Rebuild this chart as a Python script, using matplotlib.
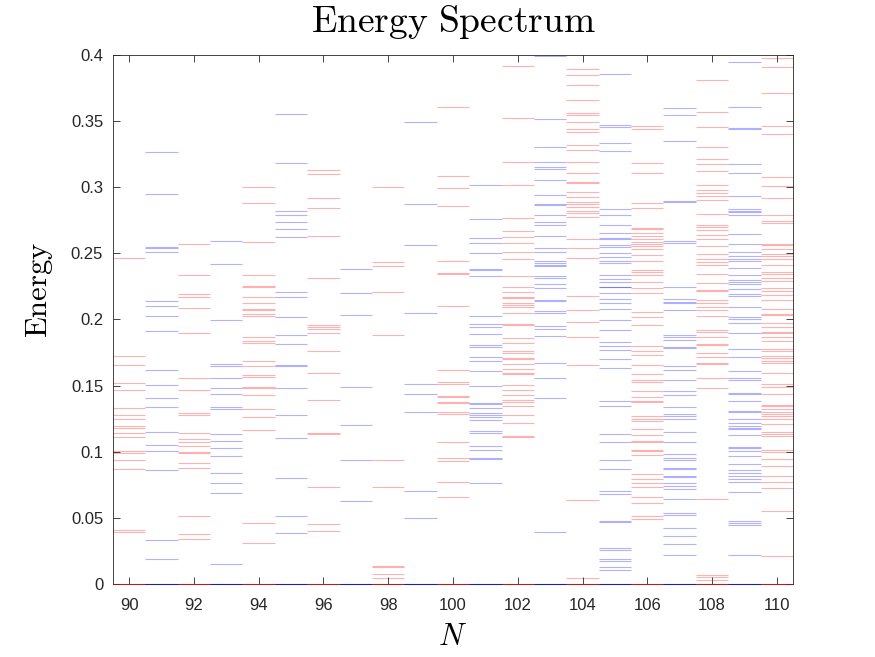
import matplotlib
matplotlib.use('Agg')
import matplotlib.pyplot as plt

plt.rcParams['mathtext.fontset'] = 'cm'
plt.rcParams['font.family'] = ['Liberation Sans', 'DejaVu Sans']

# energy levels, one list per N (ground state 0 included)
e90 = [0, 0.2465, 0.1726, 0.1658, 0.1522, 0.147, 0.133, 0.1275, 0.1247, 0.1195, 0.118,
       0.1145, 0.111, 0.1007, 0.0994, 0.094, 0.087, 0.041, 0.0396]
e91 = [0, 0.327, 0.295, 0.2548, 0.2538, 0.2511, 0.2137, 0.2105, 0.203, 0.1913, 0.162,
       0.1507, 0.1403, 0.134, 0.1153, 0.1054, 0.1002, 0.0864, 0.0333, 0.0187]
e92 = [0, 0.2574, 0.234, 0.2194, 0.2168, 0.2085, 0.19, 0.156, 0.147, 0.1296, 0.1275,
       0.1145, 0.1098, 0.1075, 0.104, 0.0999, 0.0989, 0.0916, 0.0874, 0.0515, 0.0377, 0.0338]
e93 = [0, 0.2595, 0.2423, 0.1999, 0.1663, 0.165, 0.156, 0.1483, 0.1434, 0.134, 0.132,
       0.1137, 0.1083, 0.1028, 0.097, 0.0838, 0.076, 0.069, 0.0151]
e94 = [0, 0.3003, 0.2884, 0.2587, 0.234, 0.2251, 0.2243, 0.2168, 0.2126, 0.2079, 0.2069,
       0.2038, 0.203, 0.1871, 0.1835, 0.1822, 0.1686, 0.165, 0.1582, 0.1567, 0.1491,
       0.1481, 0.1431, 0.132, 0.1265, 0.1166, 0.0463, 0.0312]
e95 = [0, 0.3555, 0.3185, 0.2821, 0.2793, 0.274, 0.2686, 0.2626, 0.221, 0.217, 0.2022,
       0.1884, 0.1817, 0.1658, 0.1645, 0.1481, 0.1275, 0.1103, 0.0802, 0.0515, 0.0383]
e96 = [0, 0.3131, 0.3097, 0.292, 0.2845, 0.2634, 0.2316, 0.1957, 0.1944, 0.1931, 0.19,
       0.1764, 0.1598, 0.1395, 0.1145, 0.1135, 0.0737, 0.045, 0.0398]
e97 = [0, 0.2379, 0.2202, 0.2035, 0.1486, 0.1205, 0.0934, 0.0625]
e98 = [0, 0.3003, 0.2436, 0.2402, 0.221, 0.1884, 0.094, 0.0737, 0.0138, 0.013, 0.0078, 0.0047]
e99 = [0, 0.3495, 0.2876, 0.2566, 0.2048, 0.1515, 0.1439, 0.1304, 0.07, 0.0502]
e100 = [0, 0.361, 0.3087, 0.2995, 0.286, 0.2444, 0.235, 0.2345, 0.21, 0.1621, 0.153, 0.151,
        0.1424, 0.1411, 0.1377, 0.1366, 0.1304, 0.1283, 0.107, 0.095, 0.0929, 0.0773, 0.0661]
e101 = [0, 0.3019, 0.2761, 0.2618, 0.2577, 0.2506, 0.2379, 0.2374, 0.2329, 0.203, 0.1965,
        0.1947, 0.1892, 0.1804, 0.1793, 0.1718, 0.1686, 0.1614, 0.1499, 0.1369, 0.1359,
        0.1333, 0.1296, 0.128, 0.126, 0.1241, 0.1158, 0.1145, 0.1046, 0.101, 0.095,
        0.0942, 0.076]
e102 = [0, 0.3914, 0.3524, 0.3193, 0.3019, 0.2767, 0.267, 0.2626, 0.2579, 0.2514, 0.2459,
        0.2327, 0.2249, 0.2207, 0.217, 0.216, 0.2126, 0.2108, 0.2095, 0.2046, 0.1965,
        0.196, 0.1858, 0.1819, 0.1759, 0.1746, 0.1712, 0.1701, 0.166, 0.1627, 0.1595,
        0.159, 0.1502, 0.147, 0.1431, 0.1395, 0.1374, 0.1345, 0.1275, 0.122, 0.1122, 0.1109]
e103 = [0, 0.399, 0.3519, 0.3305, 0.3193, 0.3152, 0.3136, 0.3055, 0.2941, 0.2871, 0.2866,
        0.2793, 0.274, 0.2714, 0.2634, 0.2543, 0.2511, 0.2446, 0.2428, 0.2413, 0.2405,
        0.2329, 0.2311, 0.2267, 0.2236, 0.2147, 0.2142, 0.2066, 0.2046, 0.1954, 0.1931,
        0.1879, 0.1673, 0.1559, 0.1403, 0.039]
e104 = [0, 0.3896, 0.3849, 0.3774, 0.3662, 0.356, 0.3547, 0.349, 0.3441, 0.3415, 0.3316,
        0.3282, 0.3193, 0.311, 0.3042, 0.3032, 0.2967, 0.293, 0.2886, 0.2873, 0.2847,
        0.2819, 0.2806, 0.2777, 0.2605, 0.2543, 0.2462, 0.2181, 0.2069, 0.1983, 0.1866,
        0.1655, 0.0635, 0.0044]
e105 = [0, 0.3857, 0.3467, 0.3454, 0.3331, 0.3277, 0.2837, 0.279, 0.2717, 0.2652, 0.2615,
        0.261, 0.2563, 0.255, 0.2506, 0.2475, 0.2444, 0.2426, 0.2337, 0.2306, 0.2282,
        0.2249, 0.2244, 0.2204, 0.2155, 0.2124, 0.2082, 0.1999, 0.1923, 0.1832, 0.1801,
        0.1767, 0.1705, 0.1632, 0.1387, 0.1343, 0.1132, 0.1072, 0.0937, 0.0872, 0.0703,
        0.0677, 0.0474, 0.0469, 0.0271, 0.0255, 0.019, 0.0177, 0.013, 0.0104]
e106 = [0, 0.3464, 0.3441, 0.3185, 0.311, 0.2884, 0.2845, 0.2691, 0.2681, 0.2655, 0.2629,
        0.261, 0.2587, 0.2571, 0.2558, 0.253, 0.2491, 0.2439, 0.2374, 0.2361, 0.2337,
        0.2285, 0.2238, 0.2202, 0.2056, 0.2017, 0.1957, 0.1801, 0.1764, 0.1728, 0.1653,
        0.1585, 0.1543, 0.1525, 0.1457, 0.1413, 0.1387, 0.1374, 0.1267, 0.1249, 0.1234,
        0.1171, 0.1124, 0.1083, 0.1072, 0.1015, 0.1002, 0.0976, 0.0835, 0.0794, 0.076,
        0.0734, 0.0656, 0.0612, 0.0513, 0.0489]
e107 = [0, 0.3602, 0.3547, 0.3352, 0.2899, 0.2886, 0.2595, 0.2582, 0.2249, 0.2155, 0.2131,
        0.2121, 0.2069, 0.1884, 0.1871, 0.1848, 0.179, 0.1785, 0.165, 0.1619, 0.1541,
        0.1457, 0.1426, 0.134, 0.1286, 0.1267, 0.1247, 0.1153, 0.1077, 0.0986, 0.0953,
        0.0937, 0.0877, 0.0872, 0.0815, 0.0807, 0.0765, 0.0739, 0.0718, 0.0645, 0.0539,
        0.0521, 0.0427, 0.0364, 0.0299, 0.0221]
e108 = [0, 0.3813, 0.3571, 0.3456, 0.3305, 0.3214, 0.3177, 0.3125, 0.3019, 0.298, 0.2959,
        0.2936, 0.2902, 0.28, 0.2712, 0.2699, 0.2675, 0.2642, 0.2605, 0.2556, 0.2498,
        0.2457, 0.2436, 0.2413, 0.2345, 0.2275, 0.2223, 0.2212, 0.215, 0.2126, 0.2092,
        0.2069, 0.2027, 0.1921, 0.1905, 0.1871, 0.1817, 0.1806, 0.1746, 0.1718, 0.1673,
        0.166, 0.1561, 0.1483, 0.0645, 0.007, 0.0052, 0.0034]
e109 = [0, 0.3948, 0.361, 0.3449, 0.3438, 0.3172, 0.3105, 0.2936, 0.2834, 0.2824, 0.2811,
        0.279, 0.2649, 0.2569, 0.2509, 0.2483, 0.2457, 0.2439, 0.2392, 0.2334, 0.23,
        0.2285, 0.2269, 0.2228, 0.2194, 0.2181, 0.2092, 0.2017, 0.2007, 0.197, 0.1895,
        0.1778, 0.1718, 0.1614, 0.1559, 0.1543, 0.1444, 0.1434, 0.1385, 0.1306, 0.1301,
        0.1247, 0.122, 0.1192, 0.1182, 0.1171, 0.1124, 0.1038, 0.1028, 0.1007, 0.0968,
        0.0911, 0.0861, 0.0838, 0.082, 0.0791, 0.0773, 0.0697, 0.0479, 0.0463, 0.0448, 0.0216]
e110 = [0, 0.3977, 0.3912, 0.3714, 0.3464, 0.3404, 0.3074, 0.3006, 0.2915, 0.2787, 0.2745,
        0.2733, 0.2571, 0.2563, 0.2532, 0.2493, 0.248, 0.2457, 0.2415, 0.2361, 0.2345,
        0.2316, 0.2288, 0.2238, 0.2212, 0.2186, 0.2144, 0.2082, 0.2043, 0.2035, 0.1973,
        0.1947, 0.1908, 0.1895, 0.1871, 0.1835, 0.1778, 0.1762, 0.1726, 0.171, 0.1684,
        0.1671, 0.1595, 0.151, 0.1491, 0.1439, 0.1353, 0.1343, 0.1327, 0.1301, 0.1288,
        0.1273, 0.1244, 0.121, 0.1148, 0.1132, 0.1117, 0.1015, 0.0999, 0.0942, 0.089,
        0.0817, 0.0773, 0.0726, 0.0552, 0.0208]

n_values = list(range(90, 111))
spectra = [e90, e91, e92, e93, e94, e95, e96, e97, e98, e99, e100,
           e101, e102, e103, e104, e105, e106, e107, e108, e109, e110]

fig = plt.figure(figsize=(8.75, 6.57), dpi=100)
ax = fig.add_axes([0.1291, 0.1111, 0.7772, 0.8052])

for n, levels in zip(n_values, spectra):
    col = 'red' if n % 2 == 0 else 'blue'
    ax.hlines(levels, n - 0.5, n + 0.5, colors=col, alpha=0.3, linewidth=0.8)
    # ground state line sits on the axis
    ax.hlines([0], n - 0.5, n + 0.5, colors=col, alpha=0.6, linewidth=0.8,
              clip_on=False, zorder=3)

ax.set_xlim(89.5, 110.5)
ax.set_ylim(0, 0.4)
ax.set_xticks(range(90, 111, 2))
yt = [0, 0.05, 0.1, 0.15, 0.2, 0.25, 0.3, 0.35, 0.4]
ax.set_yticks(yt)
ax.set_yticklabels(['0', '0.05', '0.1', '0.15', '0.2', '0.25', '0.3', '0.35', '0.4'])

axis_col = '#262626'
for s in ax.spines.values():
    s.set_color(axis_col)
    s.set_linewidth(0.6)
ax.tick_params(direction='in', length=5, width=0.6, colors=axis_col,
               top=True, right=True, labelsize=12)
ax.tick_params(axis='x', pad=10)
ax.tick_params(axis='y', pad=7)

ax.set_title(r'$\mathrm{Energy\ Spectrum}$', fontsize=27, y=1.062, pad=0,
             va='center')
ax.set_ylabel(r'$\mathrm{Energy}$', fontsize=22, va='center')
ax.yaxis.set_label_coords(-0.108, 0.555)
ax.set_xlabel(r'$N$', fontsize=22, va='center')
ax.xaxis.set_label_coords(0.5, -0.1)

fig.savefig('out.png', dpi=100)
